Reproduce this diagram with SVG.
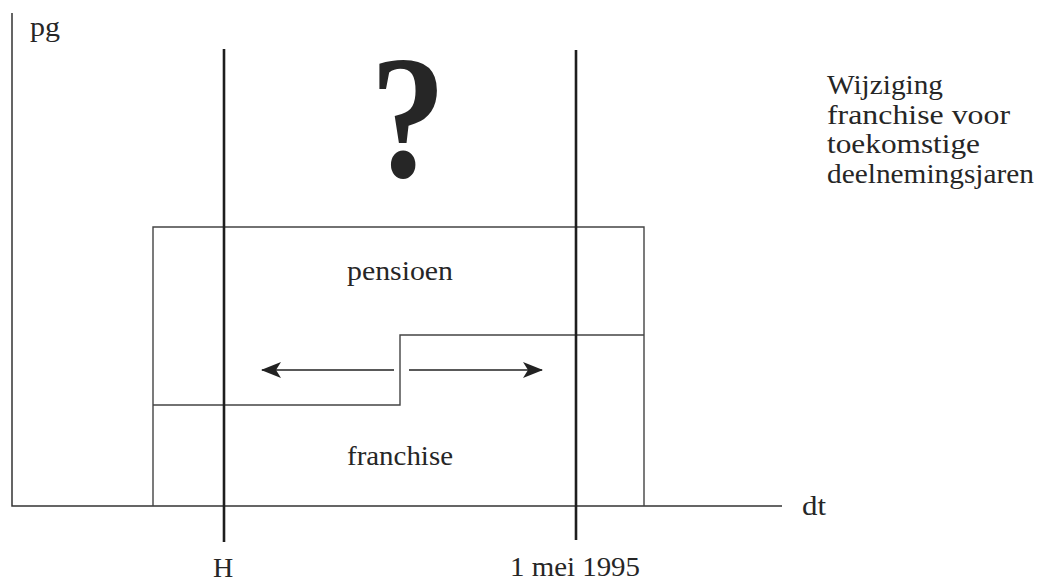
<svg xmlns="http://www.w3.org/2000/svg" width="1038" height="581" viewBox="0 0 1038 581">
<style>
.t{font-family:"Liberation Serif","Times New Roman",serif;fill:#262626;font-size:28px}
.ax{stroke:#333;stroke-width:1.5;fill:none}
.thin{stroke:#444;stroke-width:1.4;fill:none}
.thick{stroke:#1e1e1e;stroke-width:2.6;fill:none}
.arr{stroke:#222;stroke-width:1.6;fill:none}
</style>
<defs>
<marker id="ah" viewBox="0 0 20 16" refX="19" refY="8" markerWidth="20" markerHeight="16" markerUnits="userSpaceOnUse" orient="auto">
<path d="M0,0 L20,8 L0,16 L5,8 Z" fill="#222"/>
</marker>
</defs>
<rect width="1038" height="581" fill="#fff"/>
<g id="axes">
<path class="ax" d="M12,13 V506 H782"/>
</g>
<g id="block">
<path class="thin" d="M153,506 V227 H644 V506"/>
<path class="thin" d="M153,405 H400 V335 H644"/>
</g>
<g id="markers">
<path class="thick" d="M224,49 V542"/>
<path class="thick" d="M576,50 V540"/>
</g>
<g id="connectors">
<path class="arr" d="M394,370 H262" marker-end="url(#ah)"/>
<path class="arr" d="M409,370 H542" marker-end="url(#ah)"/>
</g>
<g id="labels">
<text class="t" x="30" y="36" textLength="30" lengthAdjust="spacingAndGlyphs">pg</text>
<text class="t" transform="translate(408,177) scale(0.86,1)" x="0" y="0" text-anchor="middle" style="font-size:176px;font-weight:bold">?</text>
<text class="t" x="400" y="280" text-anchor="middle" textLength="106" lengthAdjust="spacingAndGlyphs">pensioen</text>
<text class="t" x="400" y="465" text-anchor="middle" textLength="106" lengthAdjust="spacingAndGlyphs">franchise</text>
<text class="t" x="802" y="515" textLength="24" lengthAdjust="spacingAndGlyphs">dt</text>
<text class="t" x="223" y="577" text-anchor="middle">H</text>
<text class="t" x="575" y="576" text-anchor="middle" textLength="130" lengthAdjust="spacingAndGlyphs">1 mei 1995</text>
</g>
<g id="note">
<text class="t" x="827" y="94" textLength="116" lengthAdjust="spacingAndGlyphs">Wijziging</text>
<text class="t" x="827" y="124" textLength="183" lengthAdjust="spacingAndGlyphs">franchise voor</text>
<text class="t" x="827" y="153" textLength="153" lengthAdjust="spacingAndGlyphs">toekomstige</text>
<text class="t" x="827" y="183" textLength="207" lengthAdjust="spacingAndGlyphs">deelnemingsjaren</text>
</g>
</svg>
